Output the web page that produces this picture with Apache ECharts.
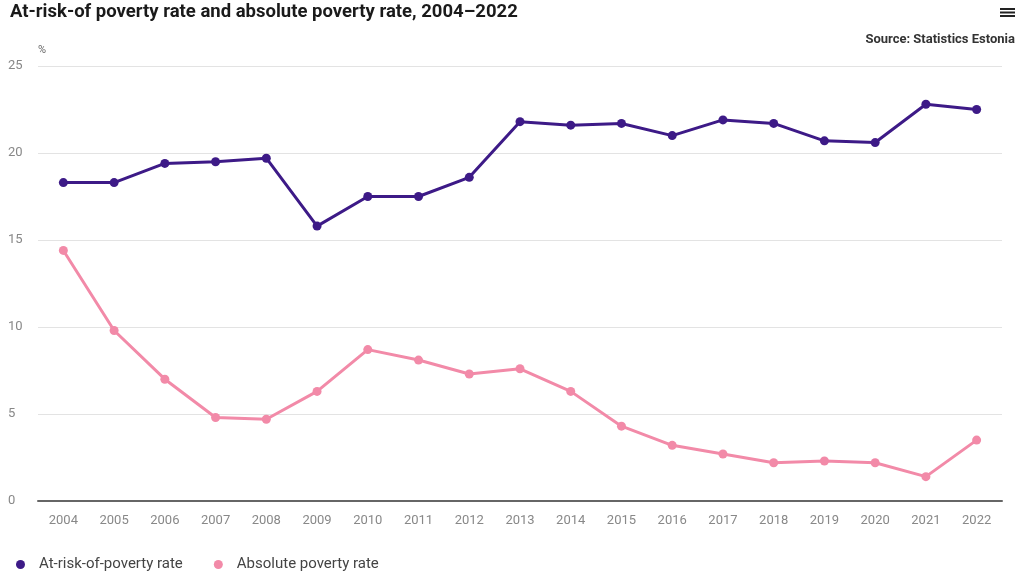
<!DOCTYPE html>
<html>
<head>
<meta charset="utf-8">
<script src="https://cdn.jsdelivr.net/npm/echarts@6/dist/echarts.min.js"></script>
<style>
  html, body { margin: 0; padding: 0; background: #fff; }
  #chart { width: 1017px; height: 574px; }
</style>
</head>
<body>
<div id="chart"></div>
<script>
var years = ['2004','2005','2006','2007','2008','2009','2010','2011','2012','2013','2014','2015','2016','2017','2018','2019','2020','2021','2022'];
var atRiskRate = [18.3, 18.3, 19.4, 19.5, 19.7, 15.8, 17.5, 17.5, 18.6, 21.8, 21.6, 21.7, 21.0, 21.9, 21.7, 20.7, 20.6, 22.8, 22.5];
var absoluteRate = [14.4, 9.8, 7.0, 4.8, 4.7, 6.3, 8.7, 8.1, 7.3, 7.6, 6.3, 4.3, 3.2, 2.7, 2.2, 2.3, 2.2, 1.4, 3.5];

var chart = echarts.init(document.getElementById('chart'));
chart.setOption({
  animation: false,
  textStyle: { fontFamily: 'Roboto' },
  title: [{
    text: 'At-risk-of poverty rate and absolute poverty rate, 2004\u20132022',
    left: 5, top: -2,
    textStyle: { fontSize: 18.5, fontWeight: 'bold', color: '#1a1a1a', fontFamily: 'Roboto' }
  }, {
    text: 'Source: Statistics Estonia',
    right: -3, top: 28,
    textStyle: { fontSize: 13, fontWeight: 'bold', color: '#333', fontFamily: 'Roboto' }
  }],
  // hamburger menu icon
  graphic: [
    { type: 'rect', left: 1000, top: 8, shape: { width: 15, height: 2 }, style: { fill: '#222' } },
    { type: 'rect', left: 1000, top: 11.5, shape: { width: 15, height: 2 }, style: { fill: '#222' } },
    { type: 'rect', left: 1000, top: 15, shape: { width: 15, height: 2 }, style: { fill: '#222' } }
  ],
  legend: {
    left: 11, top: 552,
    icon: 'circle',
    itemWidth: 9, itemHeight: 9,
    itemGap: 31,
    textStyle: { fontSize: 15, color: '#444', padding: [0, 0, 0, 9] },
    data: ['At-risk-of-poverty rate', 'Absolute poverty rate']
  },
  grid: { left: 38, right: 15, top: 66, bottom: 73 },
  xAxis: {
    type: 'category',
    data: years,
    axisLine: { lineStyle: { color: '#666', width: 2 } },
    axisTick: { show: false },
    axisLabel: { color: '#888', fontSize: 13, margin: 13 }
  },
  yAxis: {
    type: 'value',
    min: 0, max: 25, interval: 5,
    name: '%',
    nameLocation: 'end',
    nameGap: 10,
    nameTextStyle: { color: '#666', fontSize: 11, align: 'left' },
    axisLabel: { color: '#888', fontSize: 13, margin: 30, align: 'left' },
    splitLine: { lineStyle: { color: '#e3e3e3', width: 1 } }
  },
  series: [{
    name: 'At-risk-of-poverty rate',
    type: 'line',
    data: atRiskRate,
    color: '#3d1a87',
    symbol: 'circle', symbolSize: 9,
    lineStyle: { width: 3 }
  }, {
    name: 'Absolute poverty rate',
    type: 'line',
    data: absoluteRate,
    color: '#f28aa8',
    symbol: 'circle', symbolSize: 9,
    lineStyle: { width: 3 }
  }]
});
</script>
</body>
</html>
